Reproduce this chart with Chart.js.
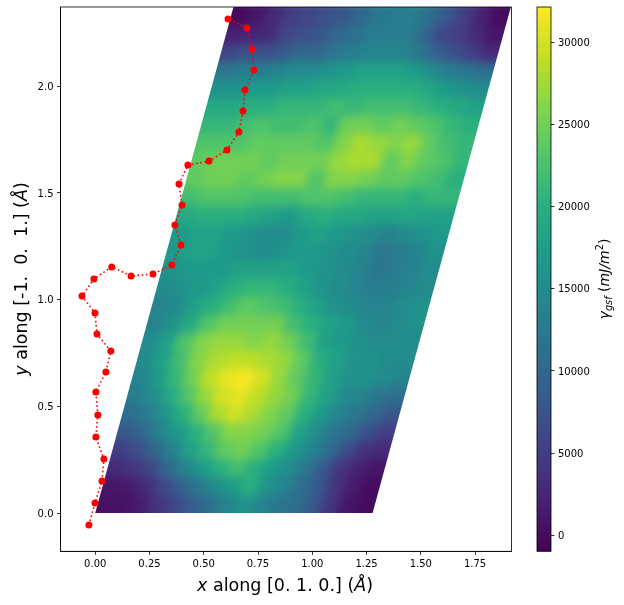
<!DOCTYPE html>
<html><head><meta charset="utf-8">
<style>html,body{margin:0;padding:0;background:#fff}canvas{display:block}</style>
<script src="https://cdn.jsdelivr.net/npm/chart.js@4"></script></head>
<body><canvas id="c" width="624" height="605"></canvas>
<script>
// Fault path (x, y in Å)
const pathX = [-.029,-.001,.031,.040,.003,.012,.003,.049,.072,.008,-.001,-.061,-.006,.076,.165,.266,.353,.395,.367,.400,.386,.427,.524,.607,.662,.681,.690,.731,.722,.699,.612];
const pathY = [-.056,.047,.150,.253,.356,.459,.567,.661,.759,.839,.937,1.017,1.097,1.153,1.111,1.120,1.162,1.256,1.350,1.443,1.542,1.631,1.649,1.701,1.785,1.884,1.982,2.076,2.174,2.273,2.315];
// Tick labels
const xTicks = [0,0.25,0.5,0.75,1,1.25,1.5,1.75];
const yTicks = [0,0.5,1,1.5,2];
const cbTicks = [0,5000,10000,15000,20000,25000,30000];
// Cell geometry of the sheared supercell (Å)
const cellWidth = 1.278, cellShear = 0.637, cellHeight = 2.371;
// Energy rows in units of 1000 mJ/m², from y=0 (first) to the top (last)
const row00=[.5,.5,1.5,4,6,9,11,14,16,14,12,11,8,4,1,0];
const row01=[1,1.5,3,6,9,12,15,17,20,16,14,11,8,4,1.5,0];
const row02=[3,4,6,10,14,17,20,22,20,17,15,12,8,4,2,1];
const row03=[5,7,10,14,18,21,24,25,23,20,17,14,11,7,4,3];
const row04=[8,10,14,17,20,23,26,26,25,23,18,15,12,10,7,5];
const row05=[11,13,16,20,24,28,30,28,26,24,20,17,14,12,10,8];
const row06=[13,15,19,23,27,30,31,29,27,25,21,18,15,14,12,11];
const row07=[14,17,21,25,29,31,32,30,27,24,21,18,16,16,15,14];
const row08=[15,18,22,26,28,29,29,28,27,24,20,18,16,16,15,15];
const row09=[15,18,23,26,27,27,26,27,25,22,18,17,16,15,15,15];
const row10=[14,16,19,23,25,25,25,25,22,20,18,17,15,14,15,16];
const row11=[14,15,18,20,22,24,23,22,20,18,16,15,14,14,15,16];
const row12=[15,16,17,18,20,21,21,20,18,16,15,14,13,13,14,15];
const row13=[16,17,17,17,18,18,18,18,17,16,15,14,12,13,14,15];
const row14=[17,18,18,17,16,15,16,17,17,16,15,14,12,13,14,16];
const row15=[17,18,18,17,16,15,15,17,18,17,16,15,14,15,16,17];
const row16=[19,20,20,20,19,18,17,19,20,19,19,18,18,19,18,18];
const row17=[22,23,23,23,22,22,22,23,23,22,21,21,21,20,21,21];
const row18=[24,25,25,24,25,26,26,23,26,26,25,24,24,23,22,20];
const row19=[24,25,25,25,24,25,25,25,27,28,28,24,26,24,23,21];
const row20=[23,23,23,24,24,24,24,23,26,28,27,26,27,24,22,21];
const row21=[21,21,22,23,22,22,23,21,25,25,24,25,24,23,21,20];
const row22=[19,19,20,20,21,21,21,22,21,22,22,22,21,20,19,18];
const row23=[16,16,17,17,18,18,19,19,20,20,20,20,19,17,16,15];
const row24=[12,13,13,14,15,15,16,17,18,18,18,17,15,13,12,11];
const row25=[6,7,7,8,10,10,12,13,14,14,14,12,9,7,5,3];
const row26=[2,2.5,3,6,7,8,10,11,13,13,13,10,6,5,3,1];
const row27=[0,1,3,5,6,7,8,10,12,13,13,11,8,5,2,0];
const energyRows=[row00,row01,row02,row03,row04,row05,row06,row07,row08,row09,row10,row11,row12,row13,row14,row15,row16,row17,row18,row19,row20,row21,row22,row23,row24,row25,row26,row27];
const cbMin=-974, cbMax=32148;
const viridis=['#440154','#482173','#433e85','#38598c','#2d708e','#25858e','#1e9b8a','#2ab07f','#51c56a','#85d54a','#c2df23','#fde725'];

const nRows=energyRows.length,nCols=energyRows[0].length;
function hex(c){return [1,3,5].map(k=>parseInt(c.substr(k,2),16));}
function colorOf(v){
  const t=Math.min(1,Math.max(0,(v-cbMin)/(cbMax-cbMin)))*(viridis.length-1);
  const k=Math.min(viridis.length-2,Math.floor(t)),f=t-k,a=hex(viridis[k]),b=hex(viridis[k+1]);
  return 'rgb('+a.map((p,n)=>Math.round(p+(b[n]-p)*f)).join(',')+')';
}
const heatData=[];
energyRows.forEach((row,j)=>row.forEach((val,i)=>{
  const fy=(j+.5)/nRows;
  heatData.push({x:(i+.5)/nCols*cellWidth+fy*cellShear,y:fy*cellHeight,v:val*1000});
}));

function mixed(ctx,segs,cx,cy,rot,size){
  ctx.save();ctx.translate(cx,cy);ctx.rotate(rot);ctx.textBaseline='alphabetic';ctx.textAlign='left';ctx.fillStyle='#000';
  const fnt=s=>(s.i?'italic ':'')+(size*(s.s||1))+'px "DejaVu Sans"';
  let w=0;segs.forEach(s=>{ctx.font=fnt(s);w+=ctx.measureText(s.t).width;});
  let x=-w/2;segs.forEach(s=>{ctx.font=fnt(s);ctx.fillText(s.t,x,(s.dy||0));x+=ctx.measureText(s.t).width;});
  ctx.restore();
}
const noVPad=s=>{s.paddingTop=0;s.paddingBottom=0;};
const paint={id:'paint',
  beforeDraw(ch){
    ['y','cb'].forEach(id=>{
      const s=ch.scales[id];
      s._labelItems=s._computeLabelItems(ch.chartArea);
      s._labelItems.forEach(it=>{it.options.translation=[it.options.translation[0],it.options.translation[1]+1];});
    });
  },
  beforeDatasetsDraw(ch){
    const {x:sx,y:sy}=ch.scales,ctx=ch.ctx,meta=ch.getDatasetMeta(0).data;
    const du=sx.getPixelForValue(cellWidth/nCols)-sx.getPixelForValue(0);
    const dvx=sx.getPixelForValue(cellShear/nRows)-sx.getPixelForValue(0);
    const dvy=sy.getPixelForValue(cellHeight/nRows)-sy.getPixelForValue(0);
    const off=document.createElement('canvas');off.width=ch.width;off.height=ch.height;
    const o=off.getContext('2d');
    for(let j=-3;j<nRows+3;j++)for(let i=-3;i<nCols+3;i++){
      const cj=Math.min(nRows-1,Math.max(0,j)),ci=Math.min(nCols-1,Math.max(0,i));
      const p=meta[cj*nCols+ci],d=heatData[cj*nCols+ci];
      const px=p.x+(i-ci)*du+(j-cj)*dvx,py=p.y+(j-cj)*dvy;
      o.fillStyle=o.strokeStyle=colorOf(d.v);o.lineWidth=1;
      o.beginPath();
      o.moveTo(px-du/2-dvx/2,py-dvy/2);o.lineTo(px+du/2-dvx/2,py-dvy/2);
      o.lineTo(px+du/2+dvx/2,py+dvy/2);o.lineTo(px-du/2+dvx/2,py+dvy/2);o.closePath();o.fill();o.stroke();
    }
    ctx.save();
    const a=ch.chartArea;ctx.beginPath();ctx.rect(a.left,a.top,a.right-a.left,a.bottom-a.top);ctx.clip();
    ctx.beginPath();
    const P=(x,y)=>[sx.getPixelForValue(x),sy.getPixelForValue(y)];
    ctx.moveTo(...P(0,0));ctx.lineTo(...P(cellWidth,0));ctx.lineTo(...P(cellWidth+cellShear,cellHeight));ctx.lineTo(...P(cellShear,cellHeight));ctx.closePath();ctx.clip();
    ctx.filter='blur(5px)';ctx.drawImage(off,0,0);ctx.filter='none';
    ctx.restore();
  },
  afterDraw(ch){
    const ctx=ch.ctx,a=ch.chartArea,cb=ch.scales.cb;
    ctx.save();
    ctx.strokeStyle='#000';ctx.lineWidth=.8;ctx.strokeRect(a.left,a.top,a.right-a.left,a.bottom-a.top);
    const l=cb.left-14,w=14,t=cb.getPixelForValue(cbMax),b=cb.getPixelForValue(cbMin);
    const g=ctx.createLinearGradient(0,b,0,t);viridis.forEach((c,k)=>g.addColorStop(k/(viridis.length-1),c));
    ctx.fillStyle=g;ctx.fillRect(l,t,w,b-t);ctx.strokeRect(l,t,w,b-t);
    ctx.restore();
    mixed(ctx,[{t:'x',i:1},{t:' along [0. 1. 0.] ('},{t:'Å',i:1},{t:')'}],285,591,0,17.5);
    mixed(ctx,[{t:'y',i:1},{t:' along [-1.  0.  1.] ('},{t:'Å',i:1},{t:')'}],27,279,-Math.PI/2,17.5);
    mixed(ctx,[{t:'γ',i:1},{t:'gsf',i:1,s:.7,dy:3},{t:' ('},{t:'mJ/m',i:1},{t:'2',s:.7,dy:-6},{t:')'}],609,279,-Math.PI/2,14);
  }
};
new Chart(document.getElementById('c'),{
  type:'scatter',
  data:{datasets:[
    {label:'energy',data:heatData,pointRadius:0,pointHoverRadius:0,showLine:false,xAxisID:'x',yAxisID:'y'},
    {label:'path',data:pathX.map((x,k)=>({x,y:pathY[k]})),showLine:true,borderColor:'#ff0000',borderWidth:1.6,borderDash:[1.6,2.6],
     pointBackgroundColor:'#ff0000',pointBorderColor:'#ff0000',pointRadius:3.5,pointBorderWidth:0,xAxisID:'x',yAxisID:'y',clip:false}
  ]},
  options:{
    responsive:false,animation:false,events:[],
    layout:{padding:{left:0,right:0,top:7,bottom:0}},
    plugins:{legend:{display:false},tooltip:{enabled:false}},
    scales:{
      x:{type:'linear',min:-0.160,max:1.918,position:'bottom',
        afterBuildTicks:s=>{s.ticks=xTicks.map(value=>({value}));},
        afterFit:s=>{s.height=53.7;},
        grid:{display:true,drawOnChartArea:false,tickLength:3.5,tickColor:'#000',tickWidth:.8},
        border:{display:true,color:'#000',width:.8},
        ticks:{color:'#000',padding:3.5,maxRotation:0,autoSkip:false,font:{family:'DejaVu Sans',size:10},callback:v=>Number(v).toFixed(2)}},
      y:{type:'linear',min:-0.179,max:2.371,position:'left',
        afterBuildTicks:s=>{s.ticks=yTicks.map(value=>({value}));},
        afterFit:s=>{s.width=60.5;noVPad(s);},
        grid:{display:true,drawOnChartArea:false,tickLength:3.5,tickColor:'#000',tickWidth:.8},
        border:{display:true,color:'#000',width:.8},
        ticks:{color:'#000',padding:3.5,autoSkip:false,font:{family:'DejaVu Sans',size:10},callback:v=>Number(v).toFixed(1)}},
      gap:{type:'linear',axis:'y',position:'right',weight:0,display:true,min:0,max:1,
        afterFit:s=>{s.width=39.5;noVPad(s);},
        grid:{display:false},border:{display:false},ticks:{display:false}},
      cb:{type:'linear',axis:'y',position:'right',weight:1,min:cbMin,max:cbMax,
        afterBuildTicks:s=>{s.ticks=cbTicks.map(value=>({value}));},
        afterFit:s=>{s.width=73;noVPad(s);},
        grid:{display:true,drawOnChartArea:false,tickLength:3.5,tickColor:'#000',tickWidth:.8},
        border:{display:false},
        ticks:{color:'#000',padding:3.5,autoSkip:false,font:{family:'DejaVu Sans',size:10},callback:v=>String(v)}}
    }
  },
  plugins:[paint]
});
</script></body></html>
